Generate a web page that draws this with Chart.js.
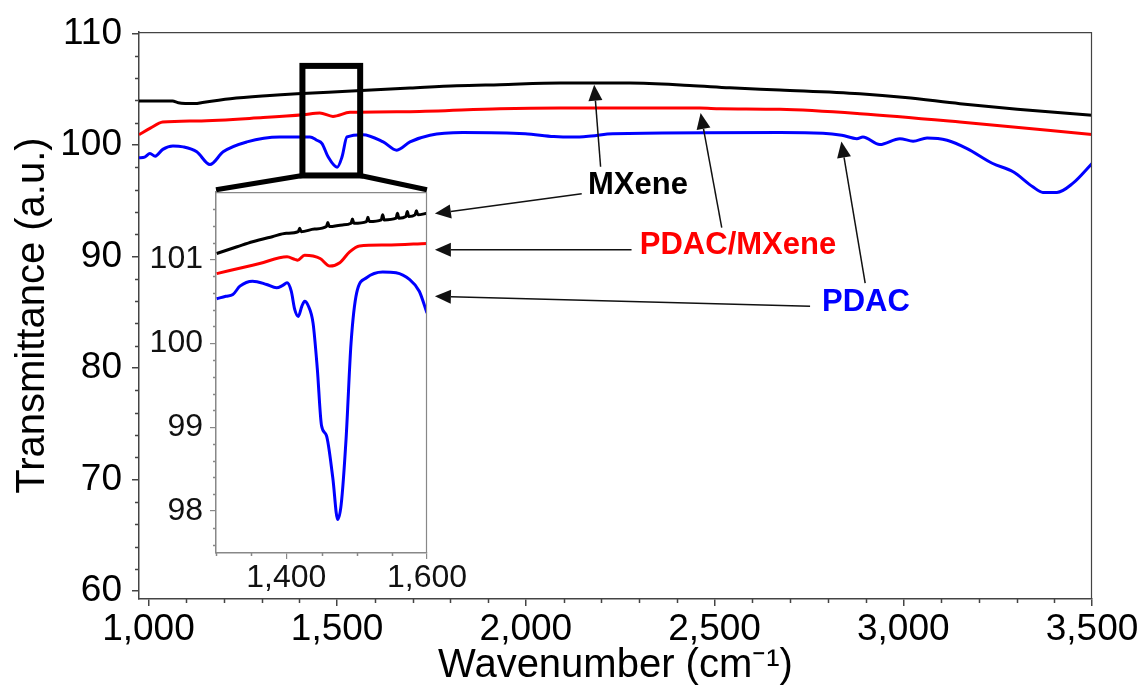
<!DOCTYPE html>
<html>
<head>
<meta charset="utf-8">
<script src="https://cdn.jsdelivr.net/npm/chart.js@4.4.1/dist/chart.umd.min.js"></script>
<style>
  html, body { margin: 0; padding: 0; background: #fff; }
  #wrap { position: relative; width: 1148px; height: 694px; }
  #main { position: absolute; left: 0; top: 0; }
  #inset { position: absolute; }
</style>
</head>
<body>
<div id="wrap">
  <canvas id="main" width="1148" height="694"></canvas>
  <canvas id="inset" width="10" height="10"></canvas>
</div>
<script>
// ---- data ----
var seriesNames = ["MXene", "PDAC/MXene", "PDAC"];
var seriesColors = ["#000000", "#ff0000", "#0000ff"];

// full range spectra
var mxeneX = [975, 1064, 1079, 1124, 1143, 1217, 1312, 1394, 1526, 1693, 1817, 1931, 2091, 2276, 2434, 2540, 2673, 2885, 3005, 3150, 3302, 3500];
var mxeneY = [103.93, 103.93, 103.78, 103.7, 103.8, 104.13, 104.4, 104.58, 104.8, 105.09, 105.3, 105.4, 105.54, 105.54, 105.33, 105.12, 104.92, 104.58, 104.25, 103.69, 103.2, 102.65];

var pdacMxeneX = [975, 1005, 1038, 1128, 1304, 1410, 1454, 1489, 1534, 1693, 1931, 2091, 2461, 2515, 2673, 2885, 3150, 3500];
var pdacMxeneY = [100.92, 101.5, 102.05, 102.15, 102.45, 102.7, 102.86, 102.55, 102.92, 102.98, 103.24, 103.3, 103.3, 103.24, 103.19, 102.8, 102.05, 100.92];

var pdacX = [975, 990, 1004, 1018, 1038, 1065, 1092, 1128, 1163, 1198, 1261, 1348, 1428, 1446, 1460, 1476, 1500, 1513, 1526, 1568, 1622, 1658, 1693, 1746, 1833, 1998, 2074, 2125, 2173, 2230, 2673, 2787, 2837, 2877, 2893, 2938, 2991, 3026, 3063, 3116, 3169, 3237, 3291, 3343, 3370, 3407, 3449, 3500];
var pdacY = [98.84, 98.9, 99.22, 98.99, 99.6, 99.9, 99.82, 99.38, 98.24, 99.38, 100.27, 100.71, 100.71, 100.42, 100.12, 98.93, 98.0, 98.93, 100.71, 100.92, 100.27, 99.53, 100.27, 100.87, 101.1, 101.0, 100.75, 100.7, 100.8, 101.0, 101.1, 101.05, 100.87, 100.56, 100.71, 100.03, 100.56, 100.33, 100.62, 100.42, 99.67, 98.33, 97.59, 96.25, 95.74, 95.74, 96.55, 98.33];

// inset, 1300-1600 cm-1
var insetMxeneX = [1301, 1330, 1352, 1380, 1400, 1417, 1419, 1421, 1440, 1457, 1459, 1461, 1480, 1492, 1494, 1496, 1514, 1516, 1518, 1535, 1537, 1539, 1556, 1558, 1560, 1570, 1572, 1574, 1583, 1585, 1587, 1600];
var insetMxeneY = [101.07, 101.15, 101.21, 101.27, 101.31, 101.33, 101.37, 101.33, 101.36, 101.39, 101.44, 101.39, 101.41, 101.43, 101.48, 101.43, 101.45, 101.5, 101.45, 101.47, 101.53, 101.47, 101.49, 101.55, 101.49, 101.51, 101.57, 101.51, 101.53, 101.58, 101.53, 101.55];

var insetPdacMxeneX = [1301, 1352, 1362, 1401, 1412, 1416, 1426, 1438, 1448, 1462, 1476, 1490, 1504, 1542, 1600];
var insetPdacMxeneY = [100.83, 100.93, 100.95, 101.03, 101.0, 100.99, 101.05, 101.04, 101.01, 100.92, 100.96, 101.09, 101.16, 101.17, 101.19];

var insetPdacX = [1301, 1314, 1324, 1334, 1352, 1372, 1386, 1395, 1401, 1407, 1412, 1417, 1422, 1426, 1431, 1438, 1444, 1450, 1457, 1466, 1473, 1478, 1485, 1492, 1500, 1514, 1537, 1556, 1575, 1589, 1600];
var insetPdacY = [100.53, 100.56, 100.58, 100.68, 100.74, 100.7, 100.66, 100.69, 100.72, 100.62, 100.4, 100.32, 100.44, 100.5, 100.45, 100.24, 99.7, 99.02, 98.9, 98.4, 97.9, 98.08, 98.87, 100.0, 100.6, 100.78, 100.85, 100.84, 100.76, 100.62, 100.36];

// axes
var mainXTicks = [1000, 1500, 2000, 2500, 3000, 3500];
var mainYTicks = [60, 70, 80, 90, 100, 110];
var insetXTicks = [1400, 1600];
var insetYTicks = [98, 99, 100, 101];

var FONT = "'Liberation Sans', Arial, sans-serif";

function range(a, b, step) {
  var out = [];
  for (var v = a; v <= b + 1e-9; v += step) out.push(Math.round(v * 100) / 100);
  return out;
}
function minorOf(all, major) {
  return all.filter(function (v) { return major.indexOf(v) < 0; });
}
function pts(xs, ys) {
  return xs.map(function (x, i) { return { x: x, y: ys[i] }; });
}
function lineSet(i, xs, ys) {
  return {
    label: seriesNames[i],
    data: pts(xs, ys),
    borderColor: seriesColors[i],
    borderWidth: 3,
    pointRadius: 0,
    fill: false,
    cubicInterpolationMode: "monotone",
    borderJoinStyle: "round"
  };
}

// minor ticks + closing box, drawn against the chart's own scales
function framePlugin(xMinor, yMinor, minorLen, color, fillWhite) {
  return {
    id: "frame",
    beforeDraw: function (chart) {
      if (!fillWhite) return;
      var a = chart.chartArea, ctx = chart.ctx;
      ctx.save();
      ctx.fillStyle = "#fff";
      ctx.fillRect(a.left, a.top, a.right - a.left, a.bottom - a.top);
      ctx.restore();
    },
    afterDraw: function (chart) {
      var a = chart.chartArea, ctx = chart.ctx;
      var xs = chart.scales.x, ys = chart.scales.y;
      ctx.save();
      ctx.strokeStyle = color;
      ctx.lineWidth = 1.5;
      ctx.beginPath();
      xMinor.forEach(function (v) {
        var p = Math.round(xs.getPixelForValue(v)) + 0.5;
        ctx.moveTo(p, a.bottom);
        ctx.lineTo(p, a.bottom + minorLen);
      });
      yMinor.forEach(function (v) {
        var p = Math.round(ys.getPixelForValue(v)) + 0.5;
        ctx.moveTo(a.left - minorLen, p);
        ctx.lineTo(a.left, p);
      });
      ctx.stroke();
      ctx.lineWidth = 1.2;
      ctx.beginPath();
      ctx.moveTo(a.left, a.top + 0.5);
      ctx.lineTo(a.right - 0.5, a.top + 0.5);
      ctx.lineTo(a.right - 0.5, a.bottom);
      ctx.stroke();
      ctx.restore();
    }
  };
}

// callouts, zoom box and inset frame are placed in main-axis units
var zoomBox = { x0: 1408, x1: 1561, y0: 97.26, y1: 107.08 };
var insetFrame = { x0: 1179, x1: 1738, y0: 63.48, y1: 95.98 };
var callouts = [
  { i: 0, at: [2297, 96.34], arrows: [[[2198, 98.04], [2181, 105.4]], [[2148, 95.63], [1759, 93.84]]] },
  { i: 1, at: [2562, 91.03], arrows: [[[2519, 92.59], [2463, 102.85]], [[2280, 90.6], [1759, 90.6]]] },
  { i: 2, at: [2901, 85.89], arrows: [[[2899, 87.62], [2836, 100.3]], [[2753, 85.54], [1759, 86.43]]] }
];

function drawArrow(ctx, x1, y1, x2, y2) {
  var ang = Math.atan2(y2 - y1, x2 - x1);
  var L = 16, W = 7;
  var bx = x2 - L * Math.cos(ang), by = y2 - L * Math.sin(ang);
  ctx.beginPath();
  ctx.moveTo(x1, y1);
  ctx.lineTo(bx, by);
  ctx.stroke();
  ctx.beginPath();
  ctx.moveTo(x2, y2);
  ctx.lineTo(bx + W * Math.sin(ang), by - W * Math.cos(ang));
  ctx.lineTo(bx - W * Math.sin(ang), by + W * Math.cos(ang));
  ctx.closePath();
  ctx.fill();
}

var calloutPlugin = {
  id: "callouts",
  afterDraw: function (chart) {
    var ctx = chart.ctx, xs = chart.scales.x, ys = chart.scales.y;
    function P(p) { return [xs.getPixelForValue(p[0]), ys.getPixelForValue(p[1])]; }
    ctx.save();
    // zoom rectangle and connectors to the inset
    var r0 = P([zoomBox.x0, zoomBox.y1]), r1 = P([zoomBox.x1, zoomBox.y0]);
    var f0 = P([insetFrame.x0, insetFrame.y1]), f1 = P([insetFrame.x1, insetFrame.y1]);
    ctx.strokeStyle = "#000";
    ctx.lineWidth = 5;
    ctx.beginPath();
    ctx.moveTo(r0[0], r1[1]);
    ctx.lineTo(f0[0], f0[1]);
    ctx.moveTo(r1[0], r1[1]);
    ctx.lineTo(f1[0], f1[1]);
    ctx.stroke();
    ctx.lineWidth = 6;
    ctx.strokeRect(r0[0], r0[1], r1[0] - r0[0], r1[1] - r0[1]);
    // arrows
    ctx.strokeStyle = "#111";
    ctx.fillStyle = "#111";
    ctx.lineWidth = 1.5;
    callouts.forEach(function (c) {
      c.arrows.forEach(function (a) {
        var t = P(a[0]), h = P(a[1]);
        drawArrow(ctx, t[0], t[1], h[0], h[1]);
      });
    });
    // labels
    ctx.font = "bold 31px " + FONT;
    ctx.textAlign = "center";
    ctx.textBaseline = "middle";
    callouts.forEach(function (c) {
      var p = P(c.at);
      ctx.fillStyle = seriesColors[c.i];
      ctx.fillText(seriesNames[c.i], p[0], p[1]);
    });
    ctx.restore();
  }
};

var mainChart = new Chart(document.getElementById("main"), {
  type: "line",
  data: {
    datasets: [
      lineSet(0, mxeneX, mxeneY),
      lineSet(1, pdacMxeneX, pdacMxeneY),
      lineSet(2, pdacX, pdacY)
    ]
  },
  options: {
    responsive: false,
    animation: false,
    devicePixelRatio: 1,
    layout: { padding: { top: 30, right: 56, left: 0, bottom: 0 } },
    plugins: { legend: { display: false }, tooltip: { enabled: false } },
    scales: {
      x: {
        type: "linear",
        min: 975,
        max: 3500,
        afterBuildTicks: function (s) { s.ticks = mainXTicks.map(function (v) { return { value: v }; }); },
        afterFit: function (s) { s.height = 95; },
        ticks: {
          font: { size: 37, family: FONT },
          color: "#000",
          padding: 2,
          maxRotation: 0,
          autoSkip: false,
          callback: function (v) { return v.toLocaleString("en-US"); }
        },
        grid: { drawOnChartArea: false, tickLength: 7, color: "#444", lineWidth: 1.5 },
        border: { color: "#444", width: 1.5 },
        title: {
          display: true,
          text: "Wavenumber (cm\u207B\u00B9)",
          font: { size: 40, family: FONT },
          color: "#000",
          padding: { top: 0, bottom: 4 }
        }
      },
      y: {
        min: 59.3,
        max: 110.1,
        afterBuildTicks: function (s) { s.ticks = mainYTicks.map(function (v) { return { value: v }; }); },
        afterFit: function (s) { s.width = 139; },
        ticks: { font: { size: 37, family: FONT }, color: "#000", padding: 10, autoSkip: false },
        grid: { drawOnChartArea: false, tickLength: 7, color: "#444", lineWidth: 1.5 },
        border: { color: "#444", width: 1.5 },
        title: {
          display: true,
          text: "Transmittance (a.u.)",
          font: { size: 40, family: FONT },
          color: "#000",
          padding: { top: 9, bottom: 0 }
        }
      }
    }
  },
  plugins: [
    framePlugin(minorOf(range(1000, 3400, 100), mainXTicks), minorOf(range(62, 108, 2), mainYTicks), 4, "#444", false),
    calloutPlugin
  ]
});

// ---- inset, placed over the frame given in main-axis units ----
var INSET_YW = 76, INSET_PT = 24, INSET_PR = 60, INSET_XH = 45;
var mx = mainChart.scales.x, my = mainChart.scales.y;
var fx0 = mx.getPixelForValue(insetFrame.x0), fx1 = mx.getPixelForValue(insetFrame.x1);
var fy0 = my.getPixelForValue(insetFrame.y1), fy1 = my.getPixelForValue(insetFrame.y0);
var insetCanvas = document.getElementById("inset");
insetCanvas.width = Math.round(fx1 - fx0) + INSET_YW + INSET_PR;
insetCanvas.height = Math.round(fy1 - fy0) + INSET_PT + INSET_XH;
insetCanvas.style.left = Math.round(fx0 - INSET_YW) + "px";
insetCanvas.style.top = Math.round(fy0 - INSET_PT) + "px";

new Chart(insetCanvas, {
  type: "line",
  data: {
    datasets: [
      lineSet(0, insetMxeneX, insetMxeneY),
      lineSet(1, insetPdacMxeneX, insetPdacMxeneY),
      lineSet(2, insetPdacX, insetPdacY)
    ]
  },
  options: {
    responsive: false,
    animation: false,
    devicePixelRatio: 1,
    layout: { padding: { top: INSET_PT, right: INSET_PR, left: 0, bottom: 0 } },
    plugins: { legend: { display: false }, tooltip: { enabled: false } },
    scales: {
      x: {
        type: "linear",
        min: 1300,
        max: 1600,
        afterBuildTicks: function (s) { s.ticks = insetXTicks.map(function (v) { return { value: v }; }); },
        afterFit: function (s) { s.height = INSET_XH; },
        ticks: {
          font: { size: 32, family: FONT },
          color: "#111",
          padding: 0,
          maxRotation: 0,
          autoSkip: false,
          callback: function (v) { return v.toLocaleString("en-US"); }
        },
        grid: { drawOnChartArea: false, tickLength: 6, color: "#888", lineWidth: 1.2 },
        border: { color: "#888", width: 1.5 }
      },
      y: {
        min: 97.5,
        max: 101.8,
        afterBuildTicks: function (s) { s.ticks = insetYTicks.map(function (v) { return { value: v }; }); },
        afterFit: function (s) { s.width = INSET_YW; },
        ticks: { font: { size: 32, family: FONT }, color: "#111", padding: 7, autoSkip: false },
        grid: { drawOnChartArea: false, tickLength: 6, color: "#888", lineWidth: 1.2 },
        border: { color: "#888", width: 1.5 }
      }
    }
  },
  plugins: [
    framePlugin(minorOf(range(1300, 1550, 50), insetXTicks), minorOf(range(97.6, 101.6, 0.2), insetYTicks), 3, "#888", true)
  ]
});
</script>
</body>
</html>
